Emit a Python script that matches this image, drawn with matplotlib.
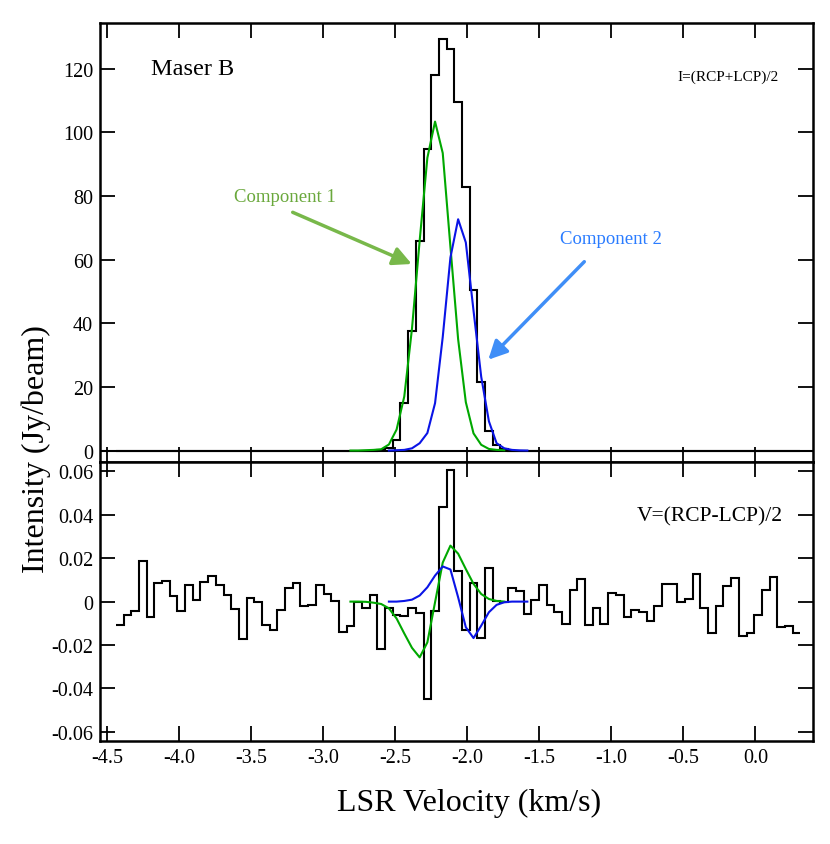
import numpy as np
import matplotlib
matplotlib.use("Agg")
import matplotlib.pyplot as plt
from matplotlib.patches import FancyArrowPatch

plt.rcParams['font.family'] = ['Liberation Serif', 'DejaVu Serif']
plt.rcParams['axes.unicode_minus'] = False

# ---------------- data ----------------
chan_start = -4.44      # left edge of first channel (km/s)
chan_width = 0.0534     # channel width (km/s)
n_chan = 89

# Stokes I histogram (Jy/beam), non-zero channels 34..50
I_first = 34
I_vals = [0.1, 0.8, 3.4, 14.9, 37.6, 65.9, 94.8, 118.0, 129.5, 126.1, 109.7,
          82.8, 50.5, 21.4, 6.2, 1.6, 0.4]

# Stokes V histogram (Jy/beam), all channels
V_vals = [-0.0106, -0.0063, -0.0043, 0.0186, -0.0069, 0.0086, 0.0095, 0.0025,
          -0.0042, 0.0075, 0.0006, 0.0089, 0.0117, 0.0077, 0.0029, -0.0035,
          -0.0174, 0.0018, -0.0003, -0.0106, -0.0131, -0.0038, 0.0062, 0.0088,
          -0.0020, -0.0017, 0.0075, 0.0037, 0.0002, -0.0142, -0.0114, -0.0003,
          -0.0031, 0.0032, -0.0218, -0.0029, -0.0062, -0.0065, -0.0028, -0.0054,
          -0.0451, -0.0042, 0.0438, 0.0608, 0.0140, -0.0132, 0.0087, -0.0170,
          0.0156, 0.0003, -0.0003, 0.0062, 0.0047, -0.0057, 0.0007, 0.0077,
          -0.0015, -0.0049, -0.0103, 0.0055, 0.0102, -0.0108, -0.0029, -0.0103,
          0.0038, 0.0031, -0.0072, -0.0037, -0.0049, -0.0088, -0.0018, 0.0080,
          0.0083, 0.0000, 0.0011, 0.0129, -0.0031, -0.0146, -0.0018, 0.0074,
          0.0111, -0.0157, -0.0145, -0.0060, 0.0055, 0.0115, -0.0115, -0.0111,
          -0.0145]

# Component 1 (green) model, channels 30..50
c1_first = 30
c1_I = [0.0, 0.0, 0.1, 0.2, 0.4, 1.9, 6.6, 17.0, 38.3, 66.0, 92.0, 103.4,
        93.5, 64.0, 35.0, 15.2, 5.4, 1.8, 0.5, 0.2, 0.1]
c1_V = [0.0, 0.0, -0.0001, -0.0005, -0.0011, -0.0031, -0.0078, -0.0147,
        -0.0213, -0.0257, -0.0188, -0.0003, 0.0180, 0.0258, 0.0221, 0.0150,
        0.0082, 0.0035, 0.0012, 0.0003, 0.0]

# Component 2 (blue) model, channels 35..53
c2_first = 35
c2_I = [0.0, 0.1, 0.2, 0.7, 2.3, 5.5, 14.9, 35.7, 60.7, 72.7, 65.4, 44.0,
        23.2, 9.2, 2.3, 0.7, 0.2, 0.05, 0.0]
c2_V = [0.0, 0.0, 0.0003, 0.0009, 0.0028, 0.0066, 0.0120, 0.0162, 0.0148,
        0.0020, -0.0118, -0.0168, -0.0111, -0.0049, -0.0015, -0.0003, 0.0,
        0.0, 0.0]

x_ticks = [-4.5, -4.0, -3.5, -3.0, -2.5, -2.0, -1.5, -1.0, -0.5, 0.0]
x_ticklabels = ['-4.5', '-4.0', '-3.5', '-3.0', '-2.5', '-2.0', '-1.5', '-1.0', '-0.5', '0.0']
yI_ticks = [0, 20, 40, 60, 80, 100, 120]
yV_ticks = [-0.06, -0.04, -0.02, 0.0, 0.02, 0.04, 0.06]
yV_ticklabels = ['-0.06', '-0.04', '-0.02', '0', '0.02', '0.04', '0.06']

# ---------------- derived ----------------
edges = chan_start + chan_width * np.arange(n_chan + 1)
centers = 0.5 * (edges[:-1] + edges[1:])
I_full = np.zeros(n_chan)
I_full[I_first:I_first + len(I_vals)] = I_vals
c1_x = centers[c1_first:c1_first + len(c1_I)]
c2_x = centers[c2_first:c2_first + len(c2_I)]

# ---------------- figure ----------------
W, H = 830, 845
fig = plt.figure(figsize=(W / 100, H / 100), dpi=100)
L, R = 100, 813
top_t, mid, bot_b = 24.3, 463.3, 741.7
axI = fig.add_axes([L / W, 1 - mid / H, (R - L) / W, (mid - top_t) / H])
axV = fig.add_axes([L / W, 1 - bot_b / H, (R - L) / W, (bot_b - mid) / H], sharex=axI)

green = '#00a800'
blue = '#0a14e6'
lw = 1.5

axI.axhline(0, color='black', lw=lw, zorder=1)
axI.stairs(I_full, edges, color='black', lw=lw, baseline=None, zorder=2)
axI.plot(c1_x, c1_I, color=green, lw=lw, zorder=3)
axI.plot(c2_x, c2_I, color=blue, lw=lw, zorder=3)

axV.stairs(V_vals, edges, color='black', lw=lw, baseline=None, zorder=2)
axV.plot(c1_x, c1_V, color=green, lw=lw, zorder=3)
axV.plot(c2_x, c2_V, color=blue, lw=lw, zorder=3)

axI.set_xlim(-4.55, 0.40)
axI.set_ylim(-3.7, 134.3)
axV.set_ylim(-0.0641, 0.0642)

for ax in (axI, axV):
    for sp in ax.spines.values():
        sp.set_linewidth(1.8)
    ax.tick_params(direction='in', length=10.5, width=1.3, top=True, right=True,
                   labelsize=14.5, pad=5)
axI.set_xticks(x_ticks)
axI.tick_params(labelbottom=False)
axV.set_xticks(x_ticks)
axV.set_xticklabels(x_ticklabels)
axI.set_yticks(yI_ticks)
axV.set_yticks(yV_ticks)
axV.set_yticklabels(yV_ticklabels)

def fx(px):
    return (px - L) / (R - L)

def fyI(py):
    return (mid - py) / (mid - top_t)

def fyV(py):
    return (bot_b - py) / (bot_b - mid)

axI.text(fx(150.7), fyI(70), 'Maser B', transform=axI.transAxes, fontsize=17.5,
         ha='left', va='center')
axI.text(fx(779), fyI(77), 'I=(RCP+LCP)/2', transform=axI.transAxes, fontsize=11,
         ha='right', va='center')
axV.text(fx(782.7), fyV(516.7), 'V=(RCP-LCP)/2', transform=axV.transAxes,
         fontsize=15.5, ha='right', va='center')

c1_text = '#6aa83c'
c1_arrow = '#78b84a'
c2_text = '#2a7cff'
c2_arrow = '#3f8ef7'
axI.text(fx(285), fyI(198), 'Component 1', transform=axI.transAxes, fontsize=13.5,
         color=c1_text, ha='center', va='center')
axI.text(fx(611.3), fyI(239.3), 'Component 2', transform=axI.transAxes, fontsize=13.5,
         color=c2_text, ha='center', va='center')

for (x0, y0, x1, y1, col) in [(292.7, 213.3, 411.7, 265.0, c1_arrow),
                              (584.3, 262.7, 488.3, 360.7, c2_arrow)]:
    arr = FancyArrowPatch((fx(x0), fyI(y0)), (fx(x1), fyI(y1)),
                          transform=axI.transAxes,
                          arrowstyle='-|>,head_length=0.8,head_width=0.4',
                          mutation_scale=14, lw=2.5, color=col,
                          shrinkA=0, shrinkB=0, zorder=5)
    axI.add_patch(arr)

fig.text(469.5 / W, 1 - 803 / H, 'LSR Velocity (km/s)', fontsize=23,
         ha='center', va='center')
fig.text(36 / W, 1 - 449 / H, 'Intensity (Jy/beam)', fontsize=23,
         ha='center', va='center', rotation=90)

fig.savefig('out.png', dpi=100)
